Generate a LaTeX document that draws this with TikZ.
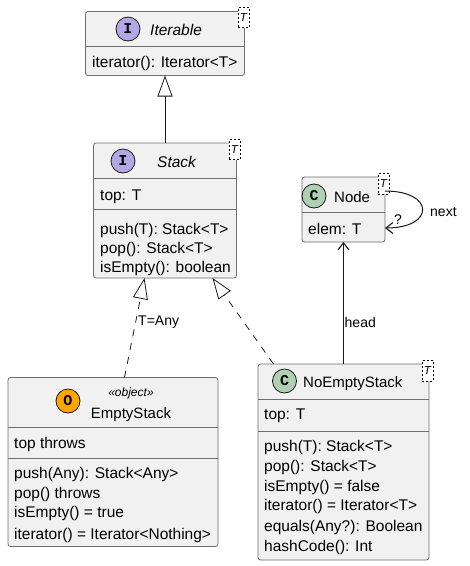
\documentclass[tikz,border=0pt]{standalone}
\usepackage{fontspec}
\setmainfont{Liberation Sans}
\setmonofont{Liberation Mono}
\usepackage{xcolor}
\usetikzlibrary{arrows.meta,positioning}
\definecolor{umlfill}{HTML}{F1F1F1}
\definecolor{umlline}{HTML}{181818}
\definecolor{umledge}{HTML}{6E6E6E}
\definecolor{umlviolet}{HTML}{B4A7E5}
\definecolor{umlgreen}{HTML}{ADD1B2}
\definecolor{umlorange}{HTML}{FFA500}
\tikzstyle{classbox} = [rectangle, rounded corners=2.5pt, draw=umledge, fill=umlfill, line width=0.8pt, inner sep=0pt, outer sep=0pt]
\tikzstyle{sepline} = [umledge, line width=0.8pt]
\tikzstyle{spot} = [circle, draw=umlline, line width=0.8pt, minimum size=24pt, inner sep=0pt, font=\ttfamily\bfseries\fontsize{15}{15}\selectfont]
\tikzstyle{tparam} = [rectangle, dash pattern=on 2pt off 2pt, draw=black, fill=white, line width=0.7pt, minimum width=11pt, minimum height=20.5pt, inner sep=0pt, font=\itshape\fontsize{11.5}{11.5}\selectfont]
\tikzstyle{member} = [anchor=base west, inner sep=0pt, font=\fontsize{15.5}{15.5}\selectfont]
\tikzstyle{title} = [anchor=base west, inner sep=0pt, font=\fontsize{15}{15}\selectfont]
\tikzstyle{linklabel} = [inner sep=0pt, font=\fontsize{14}{14}\selectfont]
\tikzstyle{extends} = [line width=0.8pt, umlline, -{Triangle[open, length=21pt, width=15pt]}]
\tikzstyle{realizes} = [extends, dash pattern=on 7pt off 7pt]
\tikzstyle{assoc} = [line width=1pt, umlline, -{Straight Barb[length=7pt, width=11pt, line width=1.1pt]}]

\begin{document}
\begin{tikzpicture}[x=1pt, y=-1pt]
    \useasboundingbox (0,0) rectangle (470,566);

    % Iterable
    \node[classbox, minimum width=159pt, minimum height=64pt] (iterable) at (165,43.5) {};
    \draw[sepline] (85.5,46.5) -- (244.5,46.5);
    \node[spot, fill=umlviolet] (iterablespot) at (128,29) {I};
    \node[title, font=\itshape\fontsize{15.5}{15.5}\selectfont] (iterabletitle) at (150,35) {Iterable};
    \node[member] (iterablem1) at (92,67) {iterator(): Iterator<T>};
    \node[tparam] (iterablet) at (243.5,17.5) {T};

    % Stack
    \node[classbox, minimum width=143pt, minimum height=135pt] (stack) at (165,210.5) {};
    \draw[sepline] (93.5,178) -- (236.5,178);
    \draw[sepline] (93.5,209.5) -- (236.5,209.5);
    \node[spot, fill=umlviolet] (stackspot) at (123,161) {I};
    \node[title, font=\itshape\fontsize{15.5}{15.5}\selectfont] (stacktitle) at (157,167) {Stack};
    \node[member] (stackm1) at (100,200) {top: T};
    \node[member] (stackm2) at (100,234) {push(T): Stack<T>};
    \node[member] (stackm3) at (100,253) {pop(): Stack<T>};
    \node[member] (stackm4) at (100,272) {isEmpty(): boolean};
    \node[tparam] (stackt) at (234.5,149.5) {T};

    % Node
    \node[classbox, minimum width=83pt, minimum height=65pt] (nodebox) at (343.5,209.5) {};
    \draw[sepline] (302,212) -- (385,212);
    \node[spot, fill=umlgreen] (nodespot) at (314,196) {C};
    \node[title] (nodetitle) at (334,202) {Node};
    \node[member] (nodem1) at (308,234) {elem: T};
    \node[tparam] (nodet) at (383.5,184) {T};

    % EmptyStack
    \node[classbox, minimum width=210pt, minimum height=169pt] (emptystack) at (113,462) {};
    \draw[sepline] (8,427) -- (218,427);
    \draw[sepline] (8,458.5) -- (218,458.5);
    \node[spot, fill=umlorange] (emptyspot) at (68,401) {O};
    \node[font=\itshape\fontsize{12}{12}\selectfont, inner sep=0pt] (emptystereo) at (131,393) {«object»};
    \node[title, anchor=base] (emptytitle) at (131,418) {EmptyStack};
    \node[member] (emptym1) at (14,448) {top throws};
    \node[member] (emptym2) at (14,478) {push(Any): Stack<Any>};
    \node[member] (emptym3) at (14,498) {pop() throws};
    \node[member] (emptym4) at (14,517) {isEmpty() = true};
    \node[member] (emptym5) at (14,539) {iterator() = Iterator<Nothing>};

    % NoEmptyStack
    \node[classbox, minimum width=171pt, minimum height=196pt] (noempty) at (343.5,462) {};
    \draw[sepline] (258,399) -- (429,399);
    \draw[sepline] (258,431) -- (429,431);
    \node[spot, fill=umlgreen] (noemptyspot) at (284.5,381) {C};
    \node[title] (noemptytitle) at (303,387) {NoEmptyStack};
    \node[member] (noemptym1) at (264,419) {top: T};
    \node[member] (noemptym2) at (264,451) {push(T): Stack<T>};
    \node[member] (noemptym3) at (264,471) {pop(): Stack<T>};
    \node[member] (noemptym4) at (264,491) {isEmpty() = false};
    \node[member] (noemptym5) at (264,510) {iterator() = Iterator<T>};
    \node[member] (noemptym6) at (264,531) {equals(Any?): Boolean};
    \node[member] (noemptym7) at (264,551) {hashCode(): Int};
    \node[tparam] (noemptyt) at (427.5,371) {T};

    % Arrows
    \coordinate (emptyout) at (124.5,377.5);
    \coordinate (stackin1) at (144.5,278);
    \coordinate (noemptyout) at (273.5,364);
    \coordinate (stackin2) at (212.5,278);
    \coordinate (nodeout) at (385,191);
    \coordinate (nodein) at (385,228);

    \draw[extends] (stack.north) -- (iterable.south);
    \draw[realizes] (emptyout) -- (stackin1);
    \draw[realizes] (noemptyout) -- (stackin2);
    \draw[assoc] (noempty.north) -- (nodebox.south);
    \draw[assoc] (nodeout) .. controls (435,191) and (435,228) .. (nodein);

    % Arrow labels
    \node[linklabel, anchor=west] (anylabel) at (138,322) {T=Any};
    \node[linklabel, anchor=west] (headlabel) at (344.5,322) {head};
    \node[linklabel, anchor=west] (nextlabel) at (430,212) {next};
    \node[linklabel, anchor=west] (roleq) at (394,220) {?};
\end{tikzpicture}
\end{document}
